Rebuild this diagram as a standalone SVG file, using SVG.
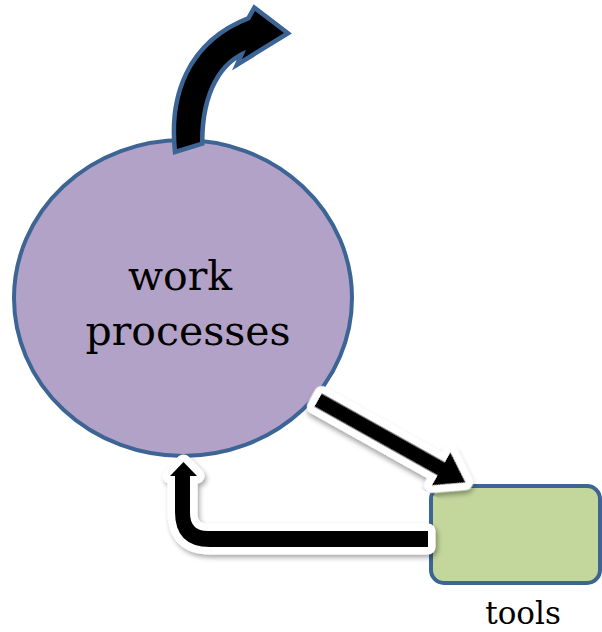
<svg xmlns="http://www.w3.org/2000/svg" width="602" height="632" viewBox="0 0 602 632">
  <defs>
    <filter id="shadow" x="-20%" y="-20%" width="140%" height="140%">
      <feDropShadow dx="2" dy="3" stdDeviation="2.5" flood-color="#000" flood-opacity="0.35"/>
    </filter>
    <style>
      .node-circle { fill: #b3a2c7; stroke: #3c6494; stroke-width: 4; }
      .node-box { fill: #c3d69b; stroke: #3c6494; stroke-width: 4; }
      .label { font-family: "DejaVu Serif", "Liberation Serif", serif; fill: #000; text-anchor: middle; }
      .arrow-blue { fill: #000; stroke: #3c6494; stroke-width: 9; stroke-linejoin: miter; paint-order: stroke; }
      .arrow-white { fill: #000; stroke: #fff; stroke-width: 15; stroke-linejoin: round; paint-order: stroke; filter: url(#shadow); }
    </style>
  </defs>

  <g id="work-processes">
    <ellipse class="node-circle" cx="183" cy="298" rx="169" ry="158"/>
    <text class="label" x="180" y="290" font-size="41">work</text>
    <text class="label" x="188" y="345" font-size="41">processes</text>
  </g>

  <g id="tools">
    <rect class="node-box" x="431" y="486" width="169" height="97" rx="13"/>
    <text class="label" x="523" y="624" font-size="31">tools</text>
  </g>

  <g id="connectors">
    <!-- curved output arrow leaving the top of the circle -->
    <path class="arrow-blue" d="M177,149 C172,98 188,44 250,20 L255,11 L284,33 L242,59 L246,50 C220,60 200,90 200,142 Z"/>
    <!-- circle to tools -->
    <path class="arrow-white" transform="translate(318,400) rotate(29.2)" d="M0,-7.5 L141,-7.5 L141,-19 L169,0 L141,19 L141,7.5 L0,7.5 Z"/>
    <!-- tools back to circle -->
    <path class="arrow-white" d="M428,531 L208,531 Q190,531 190,513 L190,476 L197,476 L183.5,462 L170,476 L175,476 L175,512 Q175,547 210,547 L428,547 Z"/>
  </g>
</svg>
